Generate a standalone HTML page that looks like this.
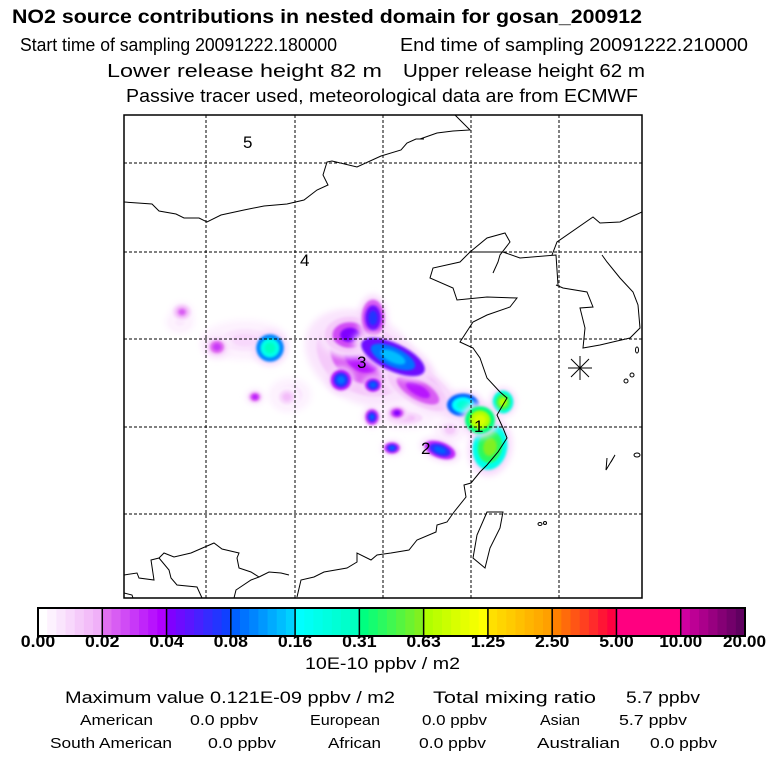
<!DOCTYPE html>
<html><head><meta charset="utf-8"><style>
html,body{margin:0;padding:0;background:#fff;}
svg{display:block;font-family:"Liberation Sans",sans-serif;}
</style></head><body>
<svg id="chart" width="768" height="768" viewBox="0 0 768 768" xmlns="http://www.w3.org/2000/svg">
<defs>
<filter id="blur4" x="-50%" y="-50%" width="200%" height="200%"><feGaussianBlur stdDeviation="3.5"/></filter>
<filter id="blur2" x="-50%" y="-50%" width="200%" height="200%"><feGaussianBlur stdDeviation="1.2"/></filter>
<clipPath id="mapclip"><rect x="124" y="115" width="518" height="483"/></clipPath>
</defs>
<g fill="#000">
<text x="12" y="23" font-size="19" font-weight="bold" textLength="630" lengthAdjust="spacingAndGlyphs">NO2 source contributions in nested domain for gosan_200912</text>
<text x="20" y="51" font-size="18" textLength="317" lengthAdjust="spacingAndGlyphs">Start time of sampling 20091222.180000</text>
<text x="400" y="51" font-size="18" textLength="348" lengthAdjust="spacingAndGlyphs">End time of sampling 20091222.210000</text>
<text x="107" y="77" font-size="18" textLength="275" lengthAdjust="spacingAndGlyphs">Lower release height   82 m</text>
<text x="403" y="77" font-size="18" textLength="242" lengthAdjust="spacingAndGlyphs">Upper release height   62 m</text>
<text x="126" y="102" font-size="18" textLength="512" lengthAdjust="spacingAndGlyphs">Passive tracer used, meteorological data are from ECMWF</text>
</g>
<g clip-path="url(#mapclip)">
<g id="plumes"></g>
<g fill="none" stroke="#000" stroke-width="1">
<path d="M124,202 L152,204 L159,211 L176,214 L184,218 L199,218 L207,222 L221,215 L244,210 L264,206 L287,204 L304,200 L317,190 L328,185 L323,175 L327,162 L332,161 L357,167 L381,156 L401,150 L407,143 L416,139 L424,139"/>
<path d="M420,139 L437,133 L453,131 L470,130 L455,115"/>
<path d="M558,285 L556,255 L520,258 L503,252 L470,252 L460,262 L433,268 L430,278 L453,288 L457,300 L487,297 L517,298 L510,307 L487,315 L473,322 L460,342 L473,348 L480,358 L487,378 L500,392 L507,398 L497,415 L503,428 L507,438 L498,452 L487,465 L480,472 L471,483 L464,485 L466,497 L454,512 L447,522 L437,525 L436,532 L417,540 L409,550 L391,553 L377,555 L371,560 L357,553 L357,562 L347,568 L324,572 L314,577 L301,580 L297,597"/>
<path d="M289,575 L281,573 L269,572 L259,577 L251,580 L236,590 L234,598"/>
<path d="M124,575 L137,573 L139,578 L154,580 L151,560 L159,558 L164,553 L174,557 L191,553 L214,543 L222,549 L239,553 L237,558 L239,568 L251,572 L259,577"/>
<path d="M159,558 L169,570 L171,578 L177,585 L197,587 L202,598"/>
<path d="M124,593 L132,595 L133,598"/>
<path d="M470,252 L487,238 L505,233 L510,242 L500,255 L498,262 L493,273"/>
<path d="M552,255 L557,242 L593,217 L600,223 L620,222 L642,212"/>
<path d="M602,255 L607,262 L620,278 L633,292 L638,305 L640,328 L630,338 L617,341 L600,345 L583,348 L585,328 L580,308 L593,307 L587,292 L563,288 L556,285"/>
<path d="M487,512 L503,512 L500,528 L490,548 L485,568 L473,558 L477,535 L487,512Z"/>
<path d="M611,462 L615,455 L606,470 L607,458" />
</g>
<g fill="none" stroke="#000" stroke-width="1">
<ellipse cx="637" cy="350" rx="1.5" ry="3"/><ellipse cx="632" cy="375" rx="2" ry="2"/><ellipse cx="626" cy="381" rx="2" ry="2"/>
<ellipse cx="637" cy="455" rx="3" ry="2"/><ellipse cx="540" cy="524" rx="2" ry="1.5"/><ellipse cx="545" cy="523" rx="1.5" ry="1.5"/>
</g>
<g stroke="#000" stroke-width="1" stroke-dasharray="3,2">
<line x1="206" y1="115" x2="206" y2="598"/><line x1="295" y1="115" x2="295" y2="598"/><line x1="383" y1="115" x2="383" y2="598"/><line x1="471" y1="115" x2="471" y2="598"/><line x1="559" y1="115" x2="559" y2="598"/>
<line x1="124" y1="163" x2="642" y2="163"/><line x1="124" y1="252" x2="642" y2="252"/><line x1="124" y1="339" x2="642" y2="339"/><line x1="124" y1="427" x2="642" y2="427"/><line x1="124" y1="514" x2="642" y2="514"/>
</g>
<g stroke="#000" stroke-width="1">
<line x1="568" y1="368" x2="592" y2="368"/><line x1="580" y1="356" x2="580" y2="380"/><line x1="571" y1="359" x2="589" y2="377"/><line x1="571" y1="377" x2="589" y2="359"/>
</g>
<g font-size="17" fill="#000">
<text x="474" y="432">1</text>
<text x="421" y="454">2</text>
<text x="357" y="368">3</text>
<text x="300" y="266">4</text>
<text x="243" y="148">5</text>
</g>
</g>
<rect x="124" y="115" width="518" height="483" fill="none" stroke="#000" stroke-width="1.5"/>
<g id="colorbar"></g>
<g fill="#000">
<text x="305" y="669" font-size="17" textLength="155" lengthAdjust="spacingAndGlyphs">10E-10 ppbv / m2</text>
<text x="65" y="703" font-size="17" textLength="330" lengthAdjust="spacingAndGlyphs">Maximum value  0.121E-09 ppbv / m2</text>
<text x="433" y="703" font-size="17" textLength="163" lengthAdjust="spacingAndGlyphs">Total mixing ratio</text>
<text x="626" y="703" font-size="17" textLength="74" lengthAdjust="spacingAndGlyphs">5.7 ppbv</text>
<g font-size="15">
<text x="80" y="725" textLength="73" lengthAdjust="spacingAndGlyphs">American</text>
<text x="190" y="725" textLength="68" lengthAdjust="spacingAndGlyphs">0.0 ppbv</text>
<text x="310" y="725" textLength="70" lengthAdjust="spacingAndGlyphs">European</text>
<text x="422" y="725" textLength="65" lengthAdjust="spacingAndGlyphs">0.0 ppbv</text>
<text x="540" y="725" textLength="40" lengthAdjust="spacingAndGlyphs">Asian</text>
<text x="619" y="725" textLength="68" lengthAdjust="spacingAndGlyphs">5.7 ppbv</text>
<text x="50" y="748" textLength="122" lengthAdjust="spacingAndGlyphs">South American</text>
<text x="208" y="748" textLength="68" lengthAdjust="spacingAndGlyphs">0.0 ppbv</text>
<text x="328" y="748" textLength="53" lengthAdjust="spacingAndGlyphs">African</text>
<text x="419" y="748" textLength="67" lengthAdjust="spacingAndGlyphs">0.0 ppbv</text>
<text x="537" y="748" textLength="83" lengthAdjust="spacingAndGlyphs">Australian</text>
<text x="650" y="748" textLength="67" lengthAdjust="spacingAndGlyphs">0.0 ppbv</text>
</g>
</g>
</svg>
<script>
const tickLabels = ["0.00","0.02","0.04","0.08","0.16","0.31","0.63","1.25","2.50","5.00","10.00","20.00"];
const segStart = ["#ffffff","#e070f0","#8000ff","#0060ff","#00ffff","#00ff80","#b0ff00","#ffe000","#ff8000","#ff0080","#d000a0"];
const segEnd   = ["#f0b0f8","#b000ff","#1040ff","#00d0ff","#00ffc0","#80f020","#ffff00","#ffa000","#ff0040","#ff0080","#600060"];
// plume blobs: x, y (map pixels), rx, ry, rotation, value (10E-10 ppbv/m2)
const blobX   = [362,270,182,217,255,287,373,393,341,373,372,397,392,440,425,463,480,490,503,350,245,290,418,450,180,215,405];
const blobY   = [358,348,312,347,397,397,318,357,380,385,417,413,448,450,385,405,420,447,402,335,340,395,390,430,322,345,418];
const blobRX  = [42, 12, 8, 9, 6, 10, 10, 30, 9, 7, 6, 8, 7, 14, 32, 14, 13, 15, 9, 22, 30, 15, 30, 12, 10, 10, 22];
const blobRY  = [30, 12, 7, 8, 5, 9, 16, 12, 9, 6, 7, 6, 5, 7, 11, 10, 12, 20, 10, 16, 14, 12, 12, 10, 8, 8, 8];
const blobRot = [30, 0, 0, 0, 0, 0, 0, 25, 0, 0, 0, 0, 0, 20, 40, 0, 0, 10, 0, 0, 0, 0, 30, 0, 0, 0, 0];
const blobVal = [0.035,0.3,0.025,0.03,0.035,0.015,0.07,0.14,0.1,0.09,0.08,0.04,0.08,0.09,0.035,0.25,0.9,0.6,0.7,0.04,0.01,0.014,0.035,0.012,0.008,0.01,0.015];

const NS="http://www.w3.org/2000/svg";
function mix(a,b,t){const pa=[1,3,5].map(i=>parseInt(a.substr(i,2),16)),pb=[1,3,5].map(i=>parseInt(b.substr(i,2),16));return 'rgb('+pa.map((v,i)=>Math.round(v+(pb[i]-v)*t)).join(',')+')';}
const cbX0=38,cbX1=745,cbY=608,cbH=28;
const segW=(cbX1-cbX0)/segStart.length;
function colorFor(v){
  const edges=tickLabels.map(Number);
  for(let i=0;i<segStart.length;i++){
    const lo=i===0?0:edges[i], hi=edges[i+1];
    if(v<hi||i===segStart.length-1){
      let t=(v-lo)/(hi-lo); t=Math.max(0,Math.min(1,t));
      return mix(segStart[i],segEnd[i],Math.floor(t*6.99)/6);
    }
  }
}
const cb=document.getElementById('colorbar');
segStart.forEach((s,i)=>{
  for(let k=0;k<7;k++){
    const r=document.createElementNS(NS,'rect');
    
    
    r.setAttribute('x',cbX0+i*segW+k*segW/7);r.setAttribute('y',cbY);
    r.setAttribute('width',segW/7+0.5);r.setAttribute('height',cbH);
    r.setAttribute('fill',mix(s,segEnd[i],k/6));
    cb.appendChild(r);
  }
  const d=document.createElementNS(NS,'line');
  
  
  d.setAttribute('x1',cbX0+i*segW);d.setAttribute('x2',cbX0+i*segW);d.setAttribute('y1',cbY);d.setAttribute('y2',cbY+cbH);
  d.setAttribute('stroke','#000');d.setAttribute('stroke-width','1.5');
  cb.appendChild(d);
});
const fr=document.createElementNS(NS,'rect');


fr.setAttribute('x',cbX0);fr.setAttribute('y',cbY);fr.setAttribute('width',cbX1-cbX0);fr.setAttribute('height',cbH);
fr.setAttribute('fill','none');fr.setAttribute('stroke','#000');fr.setAttribute('stroke-width','2');
cb.appendChild(fr);
tickLabels.forEach((t,i)=>{
  const tx=document.createElementNS(NS,'text');
  
  
  const w=t.length*8.6;
  let cx=cbX0+i*segW;
  if(i===tickLabels.length-1)cx=Math.min(cx,766-w/2);
  if(i===0)cx=Math.max(cx,2+w/2);
  tx.setAttribute('x',cx-w/2);tx.setAttribute('y',647);
  tx.setAttribute('textLength',w);tx.setAttribute('lengthAdjust','spacingAndGlyphs');
  tx.setAttribute('font-size','17');tx.setAttribute('font-weight','bold');
  tx.textContent=t;cb.appendChild(tx);
});
const pl=document.getElementById('plumes');
const order=blobX.map((_,i)=>i).sort((a,b)=>blobVal[a]-blobVal[b]);
order.forEach(i=>{
  const layers=[[1.45,Math.min(blobVal[i]*0.2,0.01)],[1.15,blobVal[i]*0.35],[0.8,blobVal[i]*0.7],[0.45,blobVal[i]]];
  layers.forEach(([s,v])=>{
    const e=document.createElementNS(NS,'ellipse');
    
    
    e.setAttribute('cx',blobX[i]);e.setAttribute('cy',blobY[i]);
    e.setAttribute('rx',blobRX[i]*s);e.setAttribute('ry',blobRY[i]*s);
    e.setAttribute('transform','rotate('+blobRot[i]+' '+blobX[i]+' '+blobY[i]+')');
    e.setAttribute('fill',colorFor(Math.max(v,0.004)));
    e.setAttribute('filter',s>1.2?'url(#blur4)':'url(#blur2)');
    pl.appendChild(e);
  });
});
</script>
</body></html>
